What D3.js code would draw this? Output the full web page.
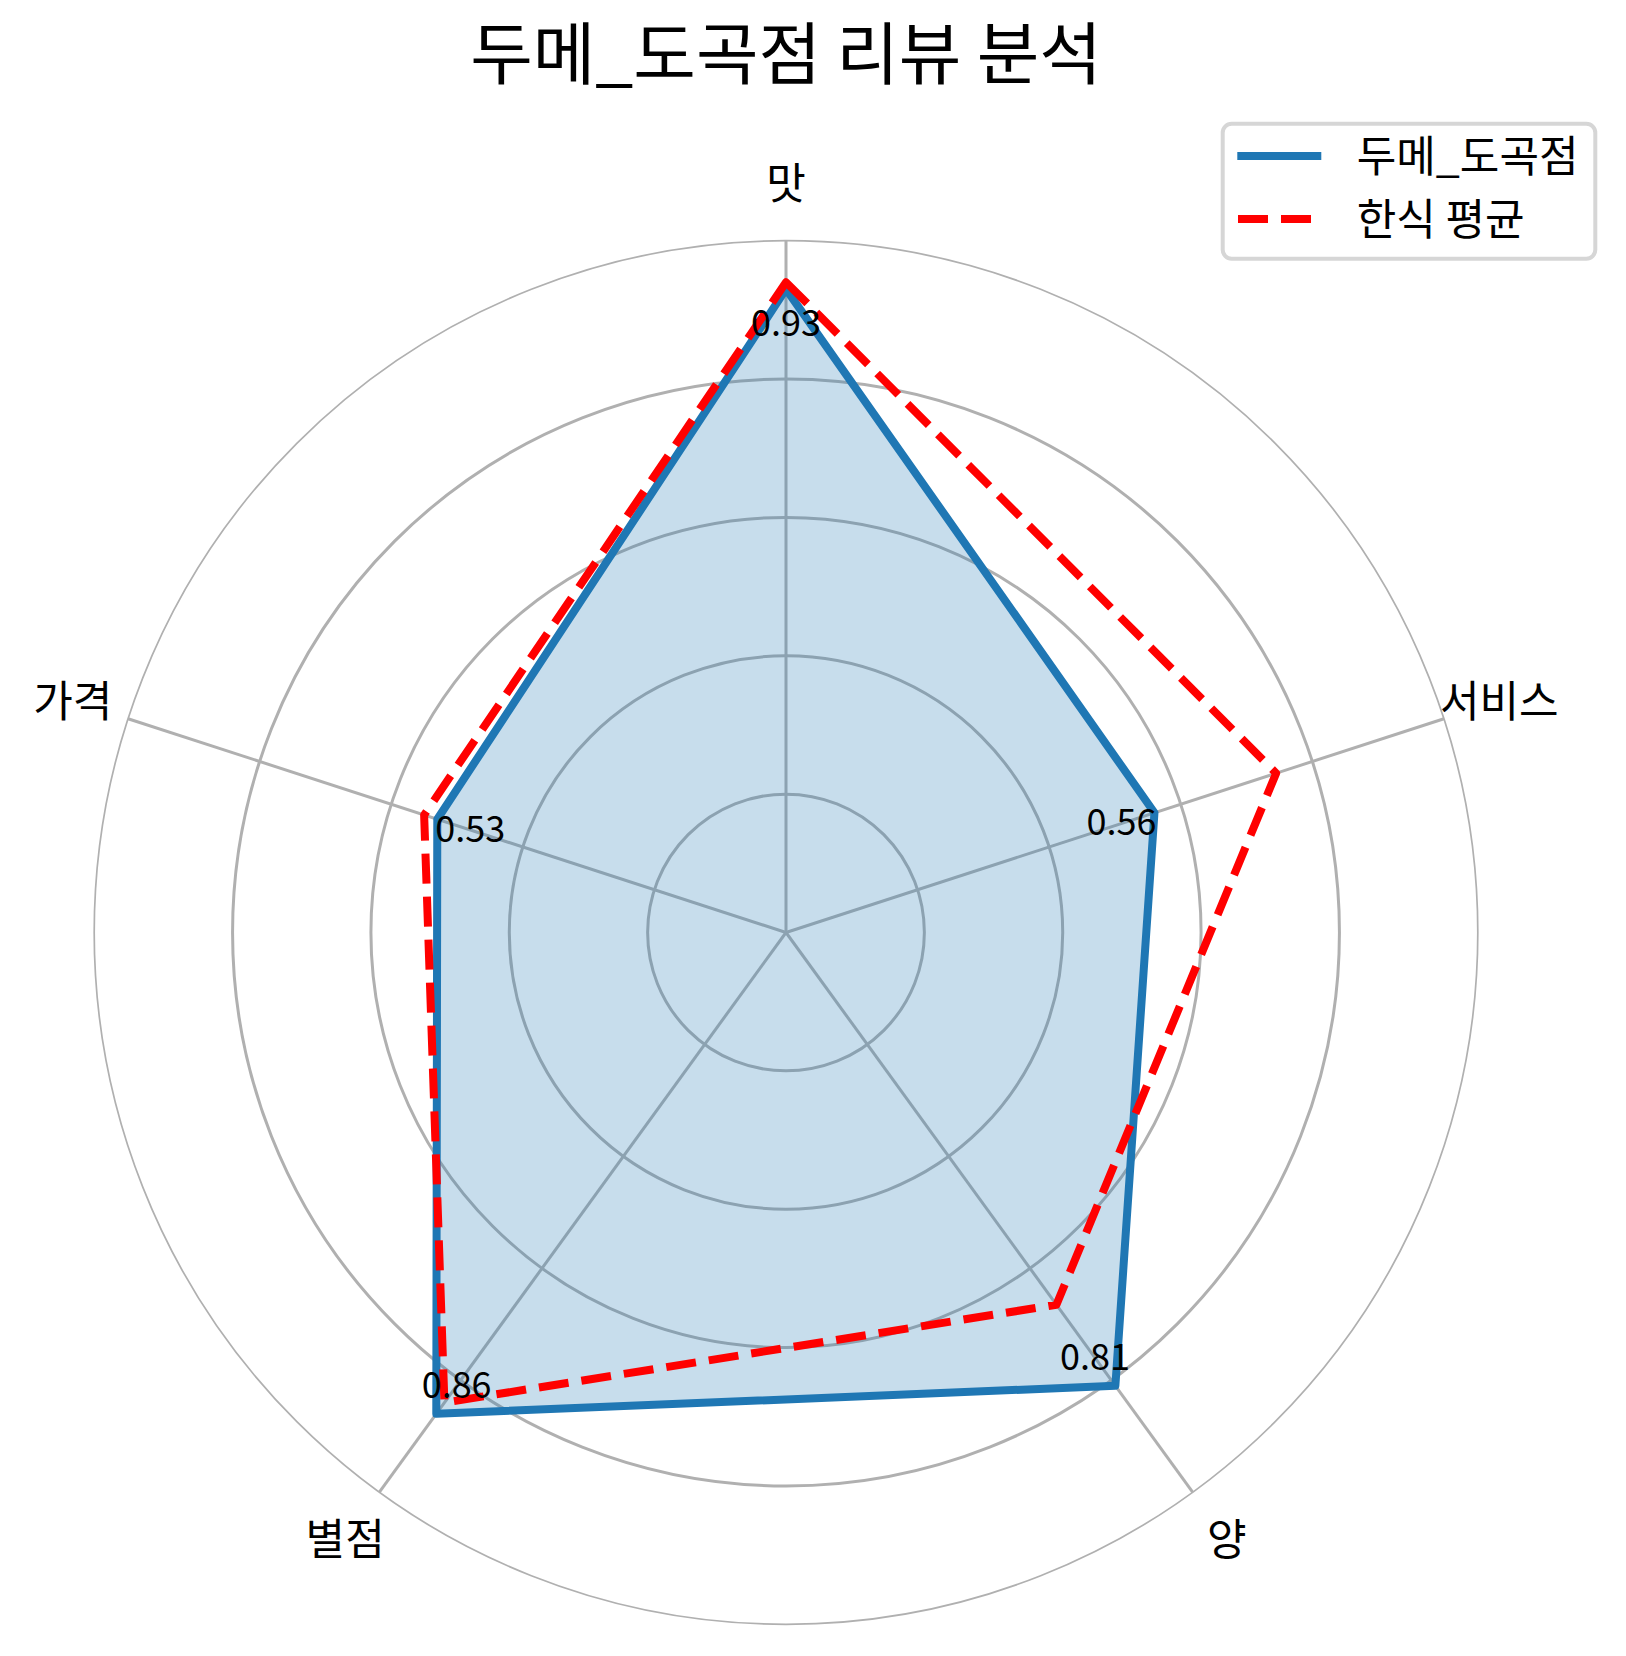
<!DOCTYPE html>
<html>
<head>
<meta charset="utf-8">
<script src="https://cdn.jsdelivr.net/npm/d3@7/dist/d3.min.js"></script>
<style>
  html, body { margin: 0; padding: 0; background: #ffffff; }
  svg { display: block; }
  text { font-family: "Noto Sans CJK KR", "Noto Sans", sans-serif; fill: #000; }
</style>
</head>
<body>
<script>
// ---- data ----
const categories = ["맛", "서비스", "양", "별점", "가격"];
const storeName = "두메_도곡점";
const avgName = "한식 평균";
const storeValues = [0.93, 0.56, 0.81, 0.86, 0.53];
const avgValues = [0.94, 0.745, 0.665, 0.84, 0.55];
const gridTicks = [0.2, 0.4, 0.6, 0.8];
const titleText = "두메_도곡점 리뷰 분석";

// ---- layout ----
const W = 1626, H = 1656;
const cx = 786, cy = 932.5, R = 691.8;
const blue = "#1f77b4", red = "#ff0000", gridColor = "#b0b0b0";

const svg = d3.select("body").append("svg").attr("width", W).attr("height", H);
svg.append("rect").attr("width", W).attr("height", H).attr("fill", "#fff");

const r = d3.scaleLinear().domain([0, 1]).range([0, R]);
const angle = d3.scalePoint().domain(d3.range(categories.length + 1)).range([0, 2 * Math.PI]);
const ang = i => angle(i);

const g = svg.append("g").attr("transform", `translate(${cx},${cy})`);

// grid rings
g.selectAll("circle.grid").data(gridTicks).enter().append("circle")
  .attr("class", "grid").attr("r", d => r(d))
  .attr("fill", "none").attr("stroke", gridColor).attr("stroke-width", 3);
// outer spine
g.append("circle").attr("r", r(1)).attr("fill", "none")
  .attr("stroke", gridColor).attr("stroke-width", 1.7);
// spokes
g.selectAll("line.spoke").data(categories).enter().append("line")
  .attr("x1", 0).attr("y1", 0)
  .attr("x2", (d, i) => r(1) * Math.sin(ang(i)))
  .attr("y2", (d, i) => -r(1) * Math.cos(ang(i)))
  .attr("stroke", gridColor).attr("stroke-width", 3);

// radial line generator
const radial = d3.lineRadial()
  .angle((d, i) => ang(i))
  .radius(d => r(d))
  .curve(d3.curveLinearClosed);

// fill
g.append("path").attr("d", radial(storeValues))
  .attr("fill", blue).attr("fill-opacity", 0.25).attr("stroke", "none");
// store line
g.append("path").attr("d", radial(storeValues))
  .attr("fill", "none").attr("stroke", blue).attr("stroke-width", 8)
  .attr("stroke-linejoin", "round");
// average line
g.append("path").attr("d", radial(avgValues))
  .attr("fill", "none").attr("stroke", red).attr("stroke-width", 8)
  .attr("stroke-linejoin", "round").attr("stroke-linecap", "butt")
  .attr("stroke-dasharray", "30,13");

// value labels
g.selectAll("text.val").data(storeValues).enter().append("text")
  .attr("class", "val")
  .attr("x", (d, i) => r(d - 0.05) * Math.sin(ang(i)))
  .attr("y", (d, i) => -r(d - 0.05) * Math.cos(ang(i)))
  .attr("dy", 12)
  .attr("text-anchor", "middle")
  .attr("font-size", 36)
  .text(d => d.toFixed(2));

// category labels
const labelR = 750;
g.selectAll("text.cat").data(categories).enter().append("text")
  .attr("class", "cat")
  .attr("x", (d, i) => labelR * Math.sin(ang(i)))
  .attr("y", (d, i) => -labelR * Math.cos(ang(i)))
  .attr("dy", 16)
  .attr("text-anchor", "middle")
  .attr("font-size", 43)
  .text(d => d);

// title
svg.append("text").attr("x", cx).attr("y", 54).attr("dy", 25)
  .attr("text-anchor", "middle").attr("font-size", 68).text(titleText);

// legend
const leg = svg.append("g");
leg.append("rect").attr("x", 1222.7).attr("y", 123.7).attr("width", 372.6).attr("height", 135)
  .attr("rx", 9).attr("fill", "#fff").attr("stroke", "#d6d6d6").attr("stroke-width", 4);
const legItems = [
  { name: storeName, color: blue, dash: null, y: 156 },
  { name: avgName, color: red, dash: "30,13", y: 219 }
];
legItems.forEach(it => {
  const ln = leg.append("line").attr("x1", 1238).attr("x2", 1321).attr("y1", it.y).attr("y2", it.y)
    .attr("stroke", it.color).attr("stroke-width", 8);
  if (it.dash) ln.attr("stroke-dasharray", it.dash).attr("stroke-linecap", "butt");
  else ln.attr("x1", 1237.3 + 4).attr("x2", 1321.3 - 4).attr("stroke-linecap", "square");
  leg.append("text").attr("x", 1356.7).attr("y", it.y).attr("dy", 16)
    .attr("font-size", 43).text(it.name);
});
</script>
</body>
</html>
